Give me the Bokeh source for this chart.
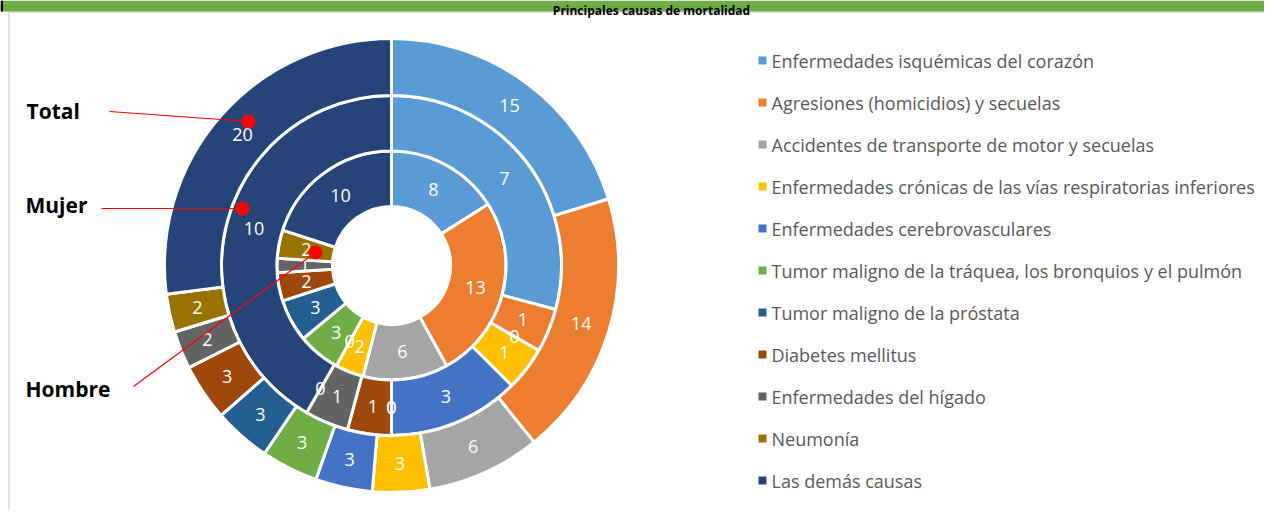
import numpy as np
from bokeh.plotting import figure
from bokeh.models import Range1d, ColumnDataSource
from bokeh.core.properties import value
from bokeh.embed import file_html
from bokeh.resources import INLINE

# ---------------- data ----------------
categories = [
    "Enfermedades isquémicas del corazón",
    "Agresiones (homicidios) y secuelas",
    "Accidentes de transporte de motor y secuelas",
    "Enfermedades crónicas de las vías respiratorias inferiores",
    "Enfermedades cerebrovasculares",
    "Tumor maligno de la tráquea, los bronquios y el pulmón",
    "Tumor maligno de la próstata",
    "Diabetes mellitus",
    "Enfermedades del hígado",
    "Neumonía",
    "Las demás causas",
]
hombre = [8, 13, 6, 2, 0, 3, 3, 2, 1, 2, 10]
mujer = [7, 1, 0, 1, 3, 0, 0, 1, 1, 0, 10]
total = [15, 14, 6, 3, 3, 3, 3, 3, 2, 2, 20]
colors = ["#5B9BD5", "#ED7D31", "#A5A5A5", "#FFC000", "#4472C4", "#70AD47",
          "#255E91", "#9E480E", "#636363", "#997300", "#264478"]
title_text = "Principales causas de mortalidad"
ring_labels = ["Total", "Mujer", "Hombre"]

FONT = "Open Sans"

# ---------------- figure (1 data unit = 1 px; Y() converts a row from the top) ----
W, H = 1264, 509
def Y(y):
    return 525 - y

p = figure(width=W, height=H, x_range=Range1d(0, W), y_range=Range1d(Y(H), Y(0)),
           output_backend="svg", toolbar_location=None, min_border=0)
p.axis.visible = False
p.grid.visible = False
p.outline_line_color = None
p.background_fill_color = "white"
p.border_fill_color = "white"

# chart frame pieces
p.line(x=[8.5, 8.5], y=[Y(11), Y(H)], line_color="#D9D9D9", line_width=1.5)
p.line(x=[8, W], y=[Y(11.5), Y(11.5)], line_color="#D9D9D9", line_width=1.5)
# title bar
p.quad(left=[0], right=[W], top=[Y(0)], bottom=[Y(11)], fill_color="#70AD47", line_color=None)
p.quad(left=[0], right=[2.5], top=[Y(0)], bottom=[Y(11)], fill_color="black", line_color=None)
p.text(x=[651], y=[Y(10)], text=[title_text], text_font=value(FONT),
       text_font_style="bold", text_font_size="12px", text_color="black",
       text_align="center", text_baseline="alphabetic")

# ---------------- doughnut ----------------
cx, cy = 391, Y(265)
radii = [(59, 114.5), (114.5, 170), (170, 227)]
series = [hombre, mujer, total]

label_x, label_y, label_t = [], [], []
for vals, (r0, r1) in zip(series, radii):
    v = np.array(vals, dtype=float)
    s = v.sum()
    cum_end = np.cumsum(v)
    cum_start = cum_end - v
    a0 = np.pi / 2 - 2 * np.pi * cum_start / s
    a1 = np.pi / 2 - 2 * np.pi * cum_end / s
    mask = v > 0
    src = ColumnDataSource(dict(start=a0[mask], end=a1[mask],
                                color=[c for c, m in zip(colors, mask) if m]))
    p.annular_wedge(x=cx, y=cy, inner_radius=r0, outer_radius=r1,
                    start_angle="start", end_angle="end", direction="clock",
                    fill_color="color", line_color="white", line_width=3, source=src)
    am = np.pi / 2 - 2 * np.pi * (cum_start + cum_end) / 2 / s
    rm = (r0 + r1) / 2
    label_x += list(cx + rm * np.cos(am))
    label_y += list(cy + rm * np.sin(am))
    label_t += [str(int(x)) for x in vals]

p.text(x=label_x, y=label_y, text=label_t, text_font=value(FONT), text_font_size="18px",
       text_color="white", text_align="center", text_baseline="middle")

# ---------------- annotations ----------------
ann_text_x = [26, 25, 25]
ann_text_y = [110, 204, 388]          # vertical centres
ann_line_start = [(109, 111), (101, 208), (133, 386)]
ann_dot = [(248, 121), (242, 208), (315, 252)]
for name, tx, ty, (lx, ly), (dx, dy) in zip(ring_labels, ann_text_x, ann_text_y, ann_line_start, ann_dot):
    p.text(x=[tx], y=[Y(ty)], text=[name], text_font=value(FONT), text_font_style="bold",
           text_font_size="21px", text_color="black", text_align="left", text_baseline="middle")
    p.line(x=[lx, dx], y=[Y(ly), Y(dy)], line_color="red", line_width=1.2)
    p.scatter(x=[dx], y=[Y(dy)], size=14, marker="circle", fill_color="red", line_color=None)

# ---------------- legend ----------------
leg_y = [Y(60 + 42 * i) for i in range(len(categories))]
p.scatter(x=[762] * len(categories), y=leg_y, marker="square", size=8,
          fill_color=colors, line_color=None)
p.text(x=[771] * len(categories), y=leg_y, text=categories, text_font=value(FONT),
       text_font_size="18px", text_color="#595959", text_align="left", text_baseline="middle")

open("out.html", "w").write(file_html(p, INLINE))
